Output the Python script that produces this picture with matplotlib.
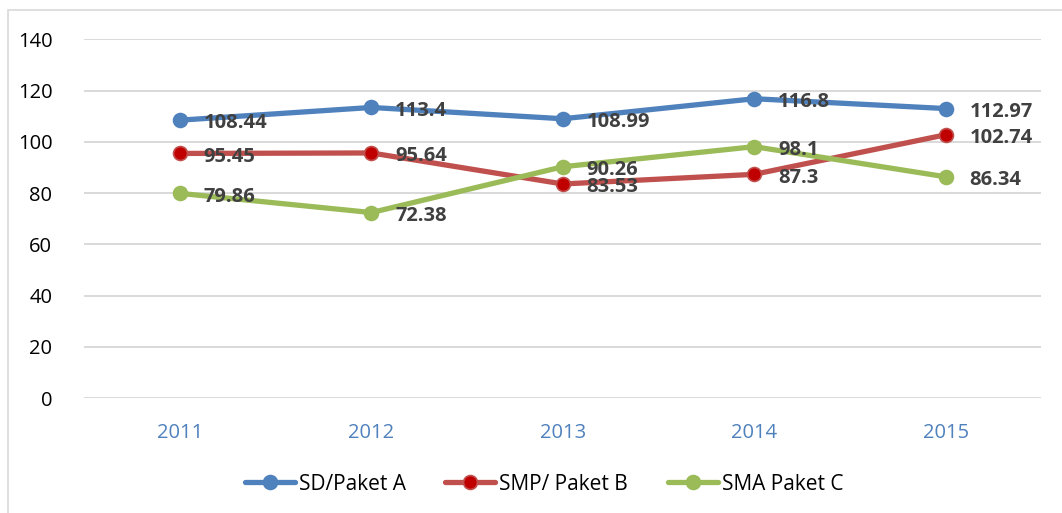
import matplotlib.pyplot as plt
from matplotlib.patches import Rectangle

years = ["2011", "2012", "2013", "2014", "2015"]
sd_paket_a = [108.44, 113.4, 108.99, 116.8, 112.97]
smp_paket_b = [95.45, 95.64, 83.53, 87.3, 102.74]
sma_paket_c = [79.86, 72.38, 90.26, 98.1, 86.34]
y_ticks = [0, 20, 40, 60, 80, 100, 120, 140]

plt.rcParams['font.family'] = ['Open Sans', 'DejaVu Sans']

fig = plt.figure(figsize=(10.62, 5.13), dpi=100)
ax = fig.add_axes([84.3 / 1062, 1 - 398 / 513, (1041.4 - 84.3) / 1062, (398 - 39.3) / 513])

# light frame round the chart area
fig.patches.append(Rectangle((8 / 1062, -0.1), 1.2, 1.1 - 10 / 513,
                             transform=fig.transFigure, fill=False,
                             edgecolor='#d9d9d9', linewidth=1.2))

x = list(range(len(years)))
series = [
    ("SD/Paket A", sd_paket_a, '#4f81bd', '#4f81bd'),
    ("SMP/ Paket B", smp_paket_b, '#c0504d', '#c00000'),
    ("SMA Paket C", sma_paket_c, '#9bbb59', '#9bbb59'),
]
for name, vals, color, face in series:
    ax.plot(x, vals, color=color, linewidth=3.8, marker='o', markersize=10,
            markerfacecolor=face, markeredgecolor=color, markeredgewidth=1.2,
            label=name, solid_capstyle='round', zorder=3)
    for xi, v in zip(x, vals):
        ax.annotate(f"{v:g}", (xi, v), xytext=(17, -0.5), textcoords='offset points',
                    ha='left', va='center_baseline', fontsize=14.5, fontweight='bold',
                    color='#404040', zorder=4)

ax.set_xlim(-0.5, len(years) - 0.5)
ax.set_ylim(0, 140)
ax.set_yticks(y_ticks)
ax.set_xticks(x)
ax.set_xticklabels(years, color='#4f81bd')
ax.tick_params(axis='both', length=0, labelsize=14.5)
ax.tick_params(axis='x', pad=18)
ax.tick_params(axis='y', pad=23)
ax.grid(axis='y', color='#d9d9d9', linewidth=1.4)
ax.set_axisbelow(True)
for s in ax.spines.values():
    s.set_visible(False)

fig.legend(loc='center', bbox_to_anchor=(544 / 1062, 1 - 484 / 513), ncol=3, frameon=False,
           fontsize=15, handlelength=2.4, columnspacing=1.9, handletextpad=0.2)

fig.savefig('out.png', dpi=100)
